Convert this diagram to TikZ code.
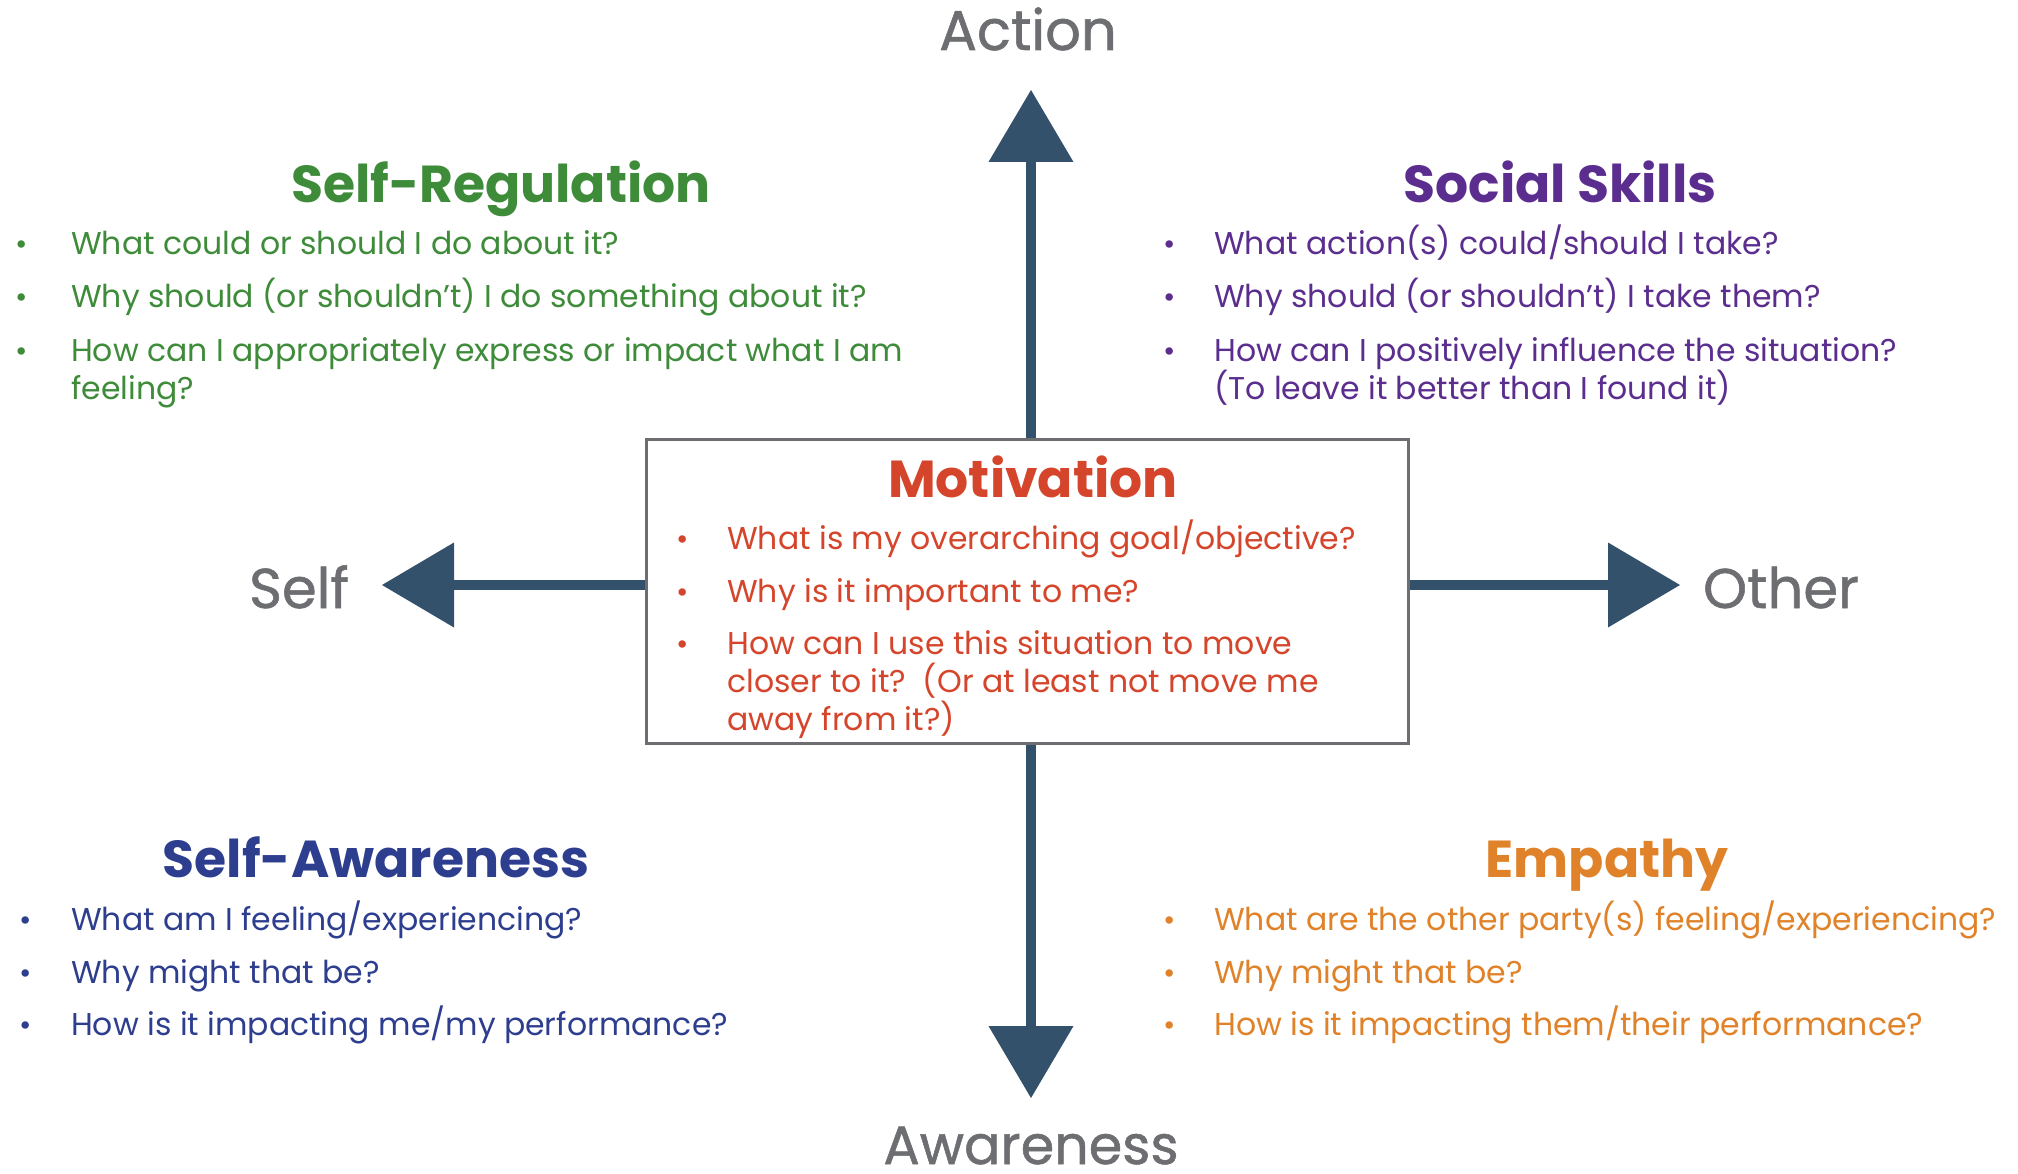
\documentclass[tikz,border=0pt]{standalone}
\usepackage{fontspec}
\setmainfont{Poppins}
\newfontfamily\axisfont[FakeBold=1]{Poppins}
\usetikzlibrary{arrows.meta}

\definecolor{axisblue}{HTML}{34516C}
\definecolor{axisgray}{HTML}{6D6E71}
\definecolor{boxgray}{HTML}{6D6E71}
\definecolor{regreen}{HTML}{3E8B3A}
\definecolor{socpurple}{HTML}{5B2D8E}
\definecolor{motred}{HTML}{D5452B}
\definecolor{awnavy}{HTML}{2E3E8E}
\definecolor{emporange}{HTML}{E0822A}

\begin{document}
\begin{tikzpicture}[x=1pt,y=-1pt,
  body/.style={anchor=base west, inner sep=0pt, font=\fontsize{31.5}{36}\selectfont},
  dot/.style={anchor=base, inner sep=0pt, font=\fontsize{30}{34}\selectfont},
  heading/.style={anchor=base, inner sep=0pt, font=\fontsize{52}{56}\selectfont\bfseries},
  axislabel/.style={anchor=base, inner sep=0pt, text=axisgray, font=\axisfont\fontsize{56}{60}\selectfont},
  axis/.style={draw=axisblue, line width=10pt,
    -{Triangle[width=85pt,length=72pt,line width=0pt]}},
  centrebox/.style={draw=boxgray, line width=3pt, fill=white, inner sep=0pt,
    minimum width=762pt, minimum height=304pt}
]
\useasboundingbox (0,0) rectangle (2018,1174);

% central box and axis arrows
\node[centrebox] (box) at (1027,591) {};
\coordinate (upTip) at (1031,90);
\coordinate (downTip) at (1031,1098);
\coordinate (leftTip) at (382,585);
\coordinate (rightTip) at (1680,585);
\draw[axis] (box.north -| upTip) -- (upTip);
\draw[axis] (box.south -| downTip) -- (downTip);
\draw[axis] (box.west |- leftTip) -- (leftTip);
\draw[axis] (box.east |- rightTip) -- (rightTip);

% axis labels
\node[axislabel] (action) at (1028,50) {Action};
\node[axislabel, font=\axisfont\fontsize{54}{58}\selectfont] (awareness) at (1031,1164) {Awareness};
\node[axislabel] (self) at (299,608) {Self};
\node[axislabel] (other) at (1781,608) {Other};

% Self-Regulation
\begin{scope}[text=regreen]
\node[heading] (srH) at (501,203) {Self-Regulation};
\node[dot] (srB1) at (22,255) {•};
\node[body] (srT1) at (71,255) {What could or should I do about it?};
\node[dot] (srB2) at (22,308) {•};
\node[body] (srT2) at (71,308) {Why should (or shouldn’t) I do something about it?};
\node[dot] (srB3) at (22,361) {•};
\node[body] (srT3) at (71,361) {How can I appropriately express or impact what I am};
\node[body] (srT4) at (71,399) {feeling?};
\end{scope}

% Social Skills
\begin{scope}[text=socpurple]
\node[heading] (ssH) at (1560,203) {Social Skills};
\node[dot] (ssB1) at (1170,255) {•};
\node[body] (ssT1) at (1214,255) {What action(s) could/should I take?};
\node[dot] (ssB2) at (1170,308) {•};
\node[body] (ssT2) at (1214,308) {Why should (or shouldn’t) I take them?};
\node[dot] (ssB3) at (1170,361) {•};
\node[body] (ssT3) at (1214,361) {How can I positively influence the situation?};
\node[body] (ssT4) at (1214,399) {(To leave it better than I found it)};
\end{scope}

% Motivation
\begin{scope}[text=motred]
\node[heading] (mvH) at (1033,497) {Motivation};
\node[dot] (mvB1) at (683,549) {•};
\node[body] (mvT1) at (727,549) {What is my overarching goal/objective?};
\node[dot] (mvB2) at (683,602) {•};
\node[body] (mvT2) at (727,602) {Why is it important to me?};
\node[dot] (mvB3) at (683,654) {•};
\node[body] (mvT3) at (727,654) {How can I use this situation to move};
\node[body] (mvT4) at (727,692) {closer to it?\ \ (Or at least not move me};
\node[body] (mvT5) at (727,730) {away from it?)};
\end{scope}

% Self-Awareness
\begin{scope}[text=awnavy]
\node[heading] (saH) at (376,877) {Self-Awareness};
\node[dot] (saB1) at (26,930) {•};
\node[body] (saT1) at (71,930) {What am I feeling/experiencing?};
\node[dot] (saB2) at (26,983) {•};
\node[body] (saT2) at (71,983) {Why might that be?};
\node[dot] (saB3) at (26,1035) {•};
\node[body] (saT3) at (71,1035) {How is it impacting me/my performance?};
\end{scope}

% Empathy
\begin{scope}[text=emporange]
\node[heading] (emH) at (1607,877) {Empathy};
\node[dot] (emB1) at (1170,930) {•};
\node[body] (emT1) at (1214,930) {What are the other party(s) feeling/experiencing?};
\node[dot] (emB2) at (1170,983) {•};
\node[body] (emT2) at (1214,983) {Why might that be?};
\node[dot] (emB3) at (1170,1035) {•};
\node[body] (emT3) at (1214,1035) {How is it impacting them/their performance?};
\end{scope}
\end{tikzpicture}
\end{document}
